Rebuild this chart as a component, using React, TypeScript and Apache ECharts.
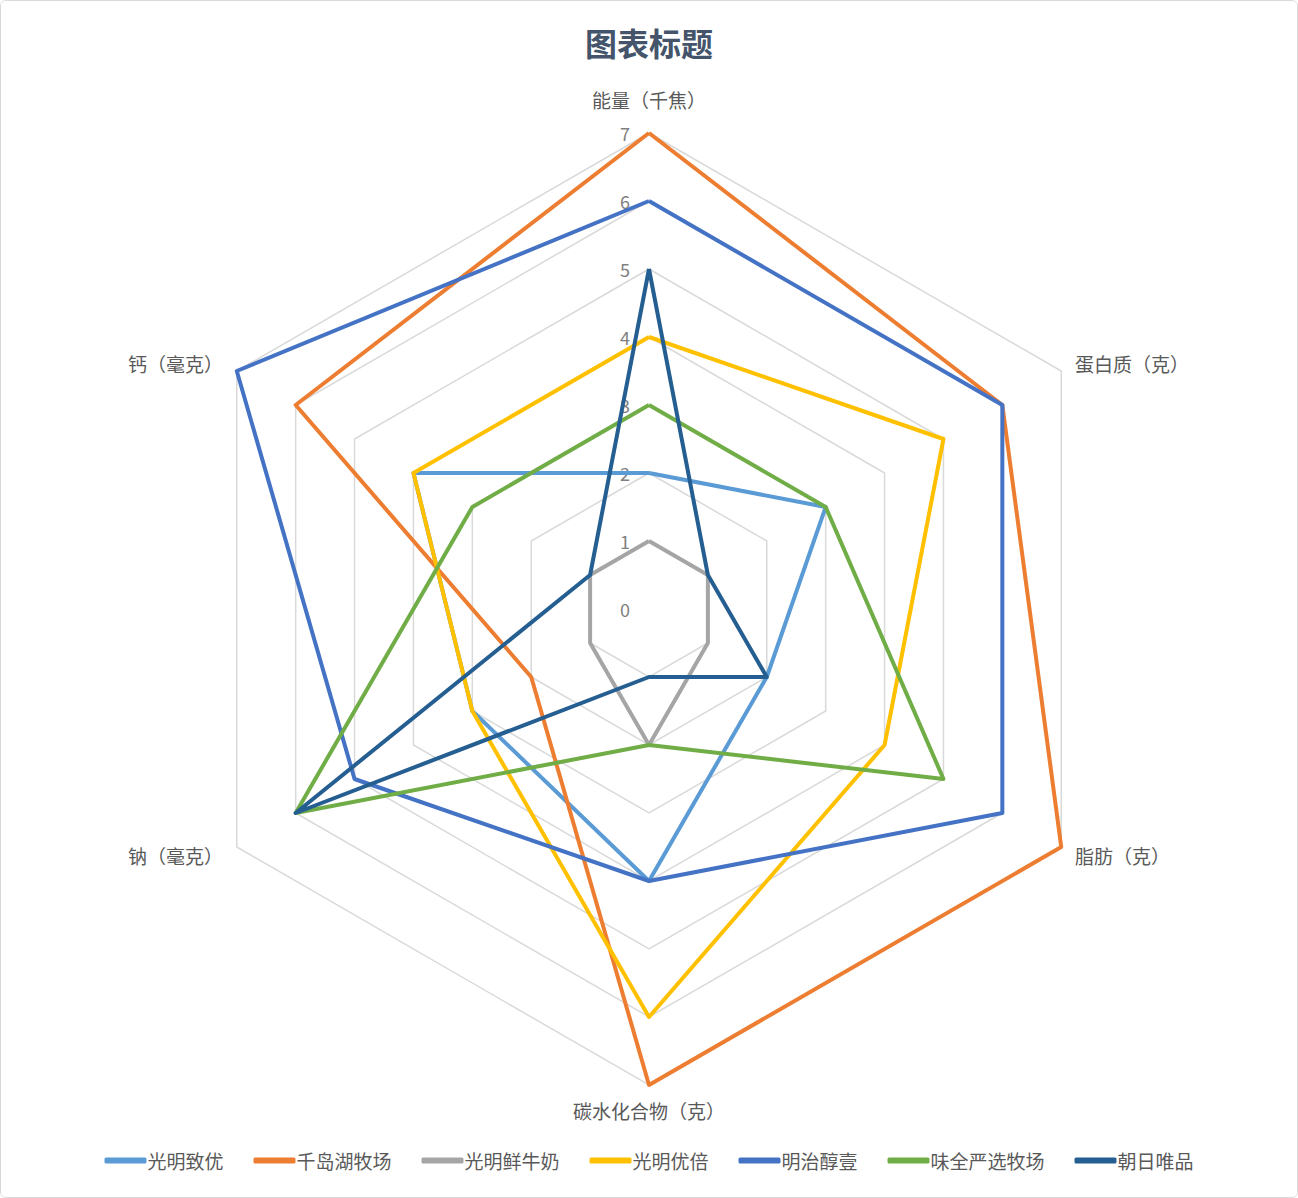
import React, { useEffect, useRef } from 'react';
import * as echarts from 'echarts';

// indicators in clockwise order starting at the top
const indicatorNames = ['能量（千焦）', '蛋白质（克）', '脂肪（克）', '碳水化合物（克）', '钠（毫克）', '钙（毫克）'];
const maxValue = 7;

const seriesNames = ['光明致优', '千岛湖牧场', '光明鲜牛奶', '光明优倍', '明治醇壹', '味全严选牧场', '朝日唯品'];
const seriesColors = ['#5B9BD5', '#ED7D31', '#A5A5A5', '#FFC000', '#4472C4', '#70AD47', '#255E91'];

const guangmingZhiyou = [2, 3, 2, 4, 3, 4];
const qiandaohu = [7, 6, 7, 7, 2, 6];
const guangmingXian = [1, 1, 1, 2, 1, 1];
const guangmingYoubei = [4, 5, 4, 6, 3, 4];
const mingzhi = [6, 6, 6, 4, 5, 7];
const weiquan = [3, 3, 5, 2, 6, 3];
const chaori = [5, 1, 2, 1, 6, 1];

const seriesValues = [guangmingZhiyou, qiandaohu, guangmingXian, guangmingYoubei, mingzhi, weiquan, chaori];

// ECharts radar runs counter-clockwise, so reorder to draw clockwise
const order = [0, 5, 4, 3, 2, 1];

const FONT = '"Noto Sans CJK SC", "Noto Sans", sans-serif';
const TEXT_COLOR = '#595959';

const App: React.FC = () => {
  const chartRef = useRef<HTMLDivElement>(null);

  useEffect(() => {
    if (!chartRef.current) return;
    const chart = echarts.init(chartRef.current, undefined, { renderer: 'svg' });

    const options = {
      animation: false,
      backgroundColor: '#ffffff',
      textStyle: { fontFamily: FONT },
      title: {
        text: '图表标题',
        left: 'center',
        top: 20,
        textStyle: { fontSize: 32, fontWeight: 'bold', color: '#44546A', fontFamily: FONT },
      },
      legend: {
        bottom: 22,
        left: 'center',
        itemGap: 30,
        itemWidth: 42,
        itemHeight: 6,
        icon: 'roundRect',
        data: seriesNames,
        textStyle: { fontSize: 19, color: TEXT_COLOR, fontFamily: FONT, padding: [0, 0, 0, -4] },
      },
      radar: {
        center: [648, 608],
        radius: 476,
        startAngle: 90,
        splitNumber: 7,
        shape: 'polygon',
        axisName: {
          color: TEXT_COLOR,
          fontSize: 19,
          fontFamily: FONT,
          formatter: (name: string) => (name === indicatorNames[0] ? `{top|${name}}` : name),
          rich: {
            top: { color: TEXT_COLOR, fontSize: 19, fontFamily: FONT, padding: [0, 0, 8, 0] },
          },
        },
        nameGap: 16,
        axisLine: { show: false },
        axisTick: { show: false },
        axisLabel: { show: false },
        splitArea: { show: false },
        splitLine: { lineStyle: { color: '#D9D9D9', width: 1.5 } },
        indicator: order.map((k, i) => ({
          name: indicatorNames[k],
          min: 0,
          max: maxValue,
          axisLabel: i === 0
            ? { show: true, color: '#7F7F7F', fontSize: 18, fontFamily: FONT, margin: 19 }
            : { show: false },
        })),
      },
      series: [
        {
          type: 'radar',
          symbol: 'none',
          data: seriesNames.map((name, i) => ({
            name,
            value: order.map((k) => seriesValues[i][k]),
            itemStyle: { color: seriesColors[i] },
            lineStyle: { color: seriesColors[i], width: 4 },
          })),
        },
      ],
    };

    chart.setOption(options);
    return () => {
      chart.dispose();
    };
  }, []);

  return (
    <div
      style={{
        position: 'absolute',
        left: 0,
        top: 0,
        width: 1298,
        height: 1198,
        border: '1.5px solid #D9D9D9',
        borderRadius: 6,
        boxSizing: 'border-box',
        overflow: 'hidden',
        background: '#fff',
      }}
    >
      <div ref={chartRef} style={{ width: '100%', height: '100%' }} />
    </div>
  );
};

export default App;
